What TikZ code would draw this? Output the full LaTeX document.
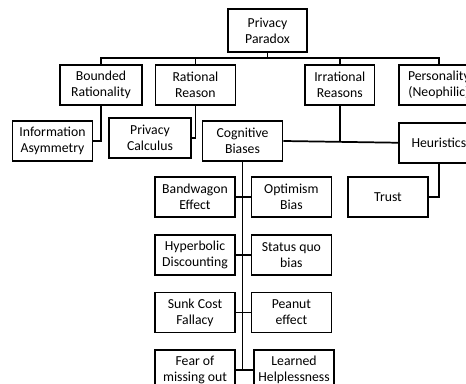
\documentclass[tikz,border=0pt]{standalone}
\usepackage{fontspec}
\setmainfont{Carlito}
\usetikzlibrary{positioning,calc}

\begin{document}
\begin{tikzpicture}[
    x=0.75pt, y=-0.75pt,
    % Define styles for the boxes and the links
    block/.style={
        rectangle,
        draw,
        line width=1.3pt,
        align=center,
        inner sep=1pt,
        minimum height=30pt,
        minimum width=60pt,
        font=\fontsize{10.3}{12}\selectfont
    },
    line/.style={
        draw,
        line width=1.3pt
    }
]

% Frame of the picture
\useasboundingbox (0,0) rectangle (466,384);
\clip (0,0) rectangle (466,384);

% Top
\node[block, minimum height=32pt, minimum width=59pt] (paradox) at (267.5,30.5) {Privacy\\Paradox};

% Second row
\node[block, minimum width=61pt] (bounded) at (101,85) {Bounded\\Rationality};
\node[block, right=9pt of bounded] (rational) {Rational\\Reason};
\node[block, minimum width=52pt, right=51pt of rational] (irrational) {Irrational\\Reasons};
\node[block, right=17pt of irrational] (personality) {Personality\\(Neophilic)};

% Third row
\node[block] (infoasym) at (52.5,141) {Information\\Asymmetry};
\node[block, minimum width=62pt] (privcalc) at (150,138) {Privacy\\Calculus};
\node[block] (cognitive) at (242.5,141) {Cognitive\\Biases};
\node[block, below=12pt of personality] (heuristics) {Heuristics};
\node[block] (trust) at (388,197) {Trust};

% Biases, left column
\node[block] (bandwagon) at (195,197) {Bandwagon\\Effect};
\node[block, below=12pt of bandwagon] (hyperbolic) {Hyperbolic\\Discounting};
\node[block, below=12pt of hyperbolic] (sunkcost) {Sunk Cost\\Fallacy};
\node[block, below=12pt of sunkcost] (fomo) {Fear of\\missing out};

% Biases, right column
\node[block, right=11pt of bandwagon] (optimism) {Optimism\\Bias};
\node[block, right=11pt of hyperbolic] (statusquo) {Status quo\\bias};
\node[block, right=11pt of sunkcost] (peanut) {Peanut\\effect};
\node[block, right=13pt of fomo] (helpless) {Learned\\Helplessness};

% Draw the connections
\coordinate (bus) at (0,58);
\draw[line] (paradox.south) -- (paradox.south |- bus);
\draw[line] (bounded.north) -- (bounded.north |- bus) -- (personality.north |- bus) -- (personality.north);
\draw[line] (rational.north) -- (rational.north |- bus);
\draw[line] (irrational.north) -- (irrational.north |- bus);

\draw[line] (bounded.south) |- (infoasym.east);
\draw[line] (rational.south) |- (privcalc.east);
\draw[line] (irrational.south) -- (irrational.south |- cognitive.east);
\draw[line] (cognitive.east) -- (heuristics.west);
\draw[line] (heuristics.south) |- (trust.east);

% Spine of the biases
\draw[line] (cognitive.south) -- (cognitive.south |- fomo.east);
\draw[line] (bandwagon.east) -- (optimism.west);
\draw[line] (hyperbolic.east) -- (statusquo.west);
\draw[line] (sunkcost.east) -- (peanut.west);
\draw[line] (fomo.east) -- (helpless.west);

\end{tikzpicture}
\end{document}
